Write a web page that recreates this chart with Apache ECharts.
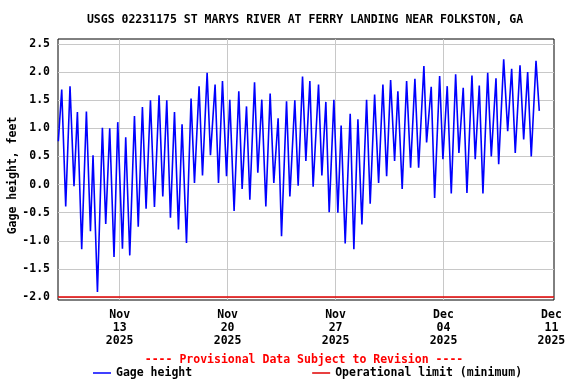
<!DOCTYPE html>
<html><head><meta charset="utf-8">
<script src="https://cdn.jsdelivr.net/npm/echarts@6/dist/echarts.min.js"></script>
<style>html,body{margin:0;padding:0;background:#fff}#c{width:576px;height:384px}</style>
</head><body><div id="c"></div>
<script>
// Hours since 2025-11-09 00:00 of each tidal turning point
const hours = [0.5, 5.8, 12.0, 18.7, 24.9, 30.2, 36.9, 44.2, 50.5, 54.5,
  61.4, 69.1, 74.3, 80.5, 87.2, 93.0, 100.3, 105.4, 111.7, 119.0,
  124.9, 131.4, 137.1, 143.9, 150.1, 157.3, 163.1, 169.3, 175.0, 181.3,
  187.5, 193.1, 200.0, 207.1, 212.4, 219.6, 224.9, 232.1, 237.3, 244.5,
  249.8, 256.0, 262.3, 267.4, 274.1, 281.4, 286.6, 293.4, 298.6, 305.9,
  311.0, 317.2, 323.5, 330.2, 335.9, 342.6, 347.9, 355.7, 360.9, 368.6,
  373.8, 380.6, 385.8, 392.0, 397.1, 405.5, 410.7, 416.9, 422.1, 429.4,
  435.6, 440.7, 447.0, 454.8, 460.5, 466.8, 473.0, 480.3, 485.9, 492.8,
  499.0, 505.7, 511.5, 517.7, 523.9, 529.0, 535.7, 542.6, 548.8, 555.5,
  561.3, 569.5, 573.7, 580.9, 586.2, 594.0, 599.1, 605.8, 612.1, 618.9,
  624.0, 630.7, 636.5, 644.3, 649.4, 655.7, 661.4, 668.8, 674.4, 681.7,
  685.9, 693.7, 699.9, 706.1, 711.7, 719.1, 724.8, 731.0, 736.6, 744.0, 749.1];
// Gage height, feet
const gageHeight = [0.77, 1.69, -0.39, 1.75, -0.03, 1.29, -1.15, 1.30, -0.83, 0.52,
  -1.91, 1.01, -0.70, 1.00, -1.29, 1.11, -1.14, 0.84, -1.26, 1.22,
  -0.75, 1.38, -0.43, 1.50, -0.40, 1.59, -0.21, 1.50, -0.59, 1.29,
  -0.80, 1.07, -1.04, 1.53, 0.03, 1.75, 0.16, 1.99, 0.52, 1.78,
  0.03, 1.84, 0.15, 1.51, -0.47, 1.66, -0.08, 1.39, -0.27, 1.82,
  0.21, 1.51, -0.39, 1.62, 0.03, 1.18, -0.92, 1.48, -0.21, 1.50,
  -0.02, 1.92, 0.42, 1.84, -0.04, 1.78, 0.16, 1.47, -0.49, 1.51,
  -0.50, 1.05, -1.05, 1.26, -1.15, 1.16, -0.71, 1.51, -0.34, 1.60,
  0.03, 1.78, 0.15, 1.86, 0.42, 1.66, -0.08, 1.84, 0.30, 1.88,
  0.30, 2.11, 0.75, 1.74, -0.24, 1.93, 0.45, 1.75, -0.16, 1.96,
  0.56, 1.72, -0.15, 1.94, 0.45, 1.76, -0.16, 1.99, 0.50, 1.89,
  0.36, 2.23, 0.95, 2.06, 0.56, 2.12, 0.80, 2.00, 0.50, 2.20, 1.31];
const operationalLimit = -2.0;
const tickLabels = ['Nov\n13\n2025', 'Nov\n20\n2025', 'Nov\n27\n2025', 'Dec\n04\n2025', 'Dec\n11\n2025'];
const spanHours = 772;      // 2025-11-09 00:00 -> 2025-12-11 04:00
const firstTickHour = 96;   // 2025-11-13 00:00
const lastTickHour = 768;   // 2025-12-11 00:00
const tickStepDays = 7;

const F = '"DejaVu Sans Mono", "Liberation Mono", monospace';
const L = 58, R = 22, W = 576 - L - R;
const pxPerHour = W / spanHours;
const plotCenter = L + W / 2;
const txt = { fontFamily: F, fontSize: 11.5, fontWeight: 'bold', color: '#000' };
const gridColor = '#c8c8c8';
const gb = { containLabel: false, outerBoundsMode: 'none' };

const chart = echarts.init(document.getElementById('c'), null, { renderer: 'canvas' });
chart.setOption({
  animation: false,
  backgroundColor: '#fff',
  title: [
    { text: 'USGS 02231175 ST MARYS RIVER AT FERRY LANDING NEAR FOLKSTON, GA', left: plotCenter - 6, textAlign: 'center', top: 9,
      textStyle: Object.assign({}, txt) },
    { text: '---- Provisional Data Subject to Revision ----', left: plotCenter - 7, textAlign: 'center', top: 349,
      textStyle: Object.assign({}, txt, { color: '#ff0000' }) }
  ],
  legend: {
    left: 88, top: 362, itemWidth: 18, itemHeight: 1.5, itemGap: 120,
    textStyle: Object.assign({}, txt),
    data: [{ name: 'Gage height', icon: 'rect' }, { name: 'Operational limit (minimum)', icon: 'rect' }]
  },
  grid: [
    Object.assign({ left: L, right: R, top: 39, bottom: 84, show: true, borderColor: '#000', borderWidth: 1, backgroundColor: 'transparent' }, gb),
    Object.assign({ left: L, right: R, top: 44, bottom: 87 }, gb),
    Object.assign({ left: L + firstTickHour * pxPerHour, right: 576 - (L + lastTickHour * pxPerHour), top: 39, bottom: 84 }, gb)
  ],
  xAxis: [
    { gridIndex: 0, type: 'value', min: 0, max: 1, show: false },
    { gridIndex: 1, type: 'value', min: 0, max: spanHours, show: false },
    { gridIndex: 2, type: 'value', min: 0, max: (tickLabels.length - 1) * tickStepDays, interval: tickStepDays,
      axisLine: { show: false }, axisTick: { show: false },
      splitLine: { show: true, showMaxLine: false, lineStyle: { color: gridColor, width: 1 } },
      axisLabel: Object.assign({}, txt, { formatter: v => tickLabels[Math.round(v / tickStepDays)], margin: 9, lineHeight: 13,
        showMinLabel: true, showMaxLabel: true }) }
  ],
  yAxis: [
    { gridIndex: 0, type: 'value', min: 0, max: 1, show: false },
    { gridIndex: 1, type: 'value', min: -2, max: 2.5, interval: 0.5,
      name: 'Gage height, feet', nameLocation: 'middle', nameGap: 39, nameMoveOverlap: false,
      nameTextStyle: Object.assign({}, txt, { padding: [0, 10, 0, 0] }),
      axisLine: { show: false }, axisTick: { show: false },
      splitLine: { show: true, lineStyle: { color: gridColor, width: 1 } },
      axisLabel: Object.assign({}, txt, { formatter: v => v.toFixed(1), margin: 8 }) },
    { gridIndex: 2, type: 'value', min: 0, max: 1, show: false }
  ],
  series: [
    { name: 'Gage height', type: 'line', xAxisIndex: 1, yAxisIndex: 1, symbol: 'none', color: '#0000ff',
      lineStyle: { color: '#0000ff', width: 1.6 },
      data: hours.map((h, i) => [h, gageHeight[i]]) },
    { name: 'Operational limit (minimum)', type: 'line', xAxisIndex: 1, yAxisIndex: 1, symbol: 'none', clip: false,
      color: '#e00000', lineStyle: { color: '#e00000', width: 1.5 },
      data: [[0, operationalLimit], [spanHours, operationalLimit]] }
  ]
});
</script></body></html>
